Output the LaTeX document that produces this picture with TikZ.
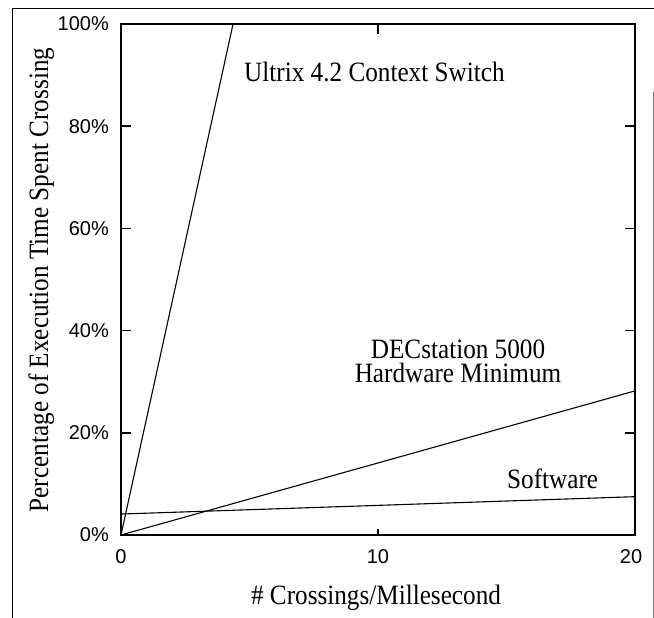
\documentclass[tikz,border=0pt]{standalone}
\usepackage{fontspec}
\usepackage{graphicx}
\setmainfont{Liberation Serif}
\newfontfamily\ticksfont{Liberation Sans}
\newcommand{\narrow}[1]{\scalebox{0.9}[1]{#1}}
\newcommand{\ytick}[3]{
    \draw[axis] (121,#1) -- (131,#1);
    \draw[axis] (635,#1) -- (625,#1);
    \node[ticklabel, anchor=east] (#2) at (109,#1) {#3};
  }

\begin{document}
\begin{tikzpicture}[x=1pt, y=-1pt,
    axis/.style={line width=1.4pt},
    curve/.style={line width=1.1pt},
    lbl/.style={inner sep=0pt, font=\fontsize{28}{24}\selectfont},
    ticklabel/.style={inner sep=0pt, font=\ticksfont\fontsize{20}{24}\selectfont}]
  \useasboundingbox (0,0) rectangle (654,618);
  % outer frame
  \draw[line width=0.9pt] (12,618) -- (12,8) -- (654,8);
  \draw[line width=0.6pt, gray] (653,92) -- (653,618);

  % axes and ticks
  \draw[axis] (121,24) rectangle (635,535);
  \ytick{24}{y100}{100\%}
  \ytick{126.2}{y80}{80\%}
  \ytick{228.4}{y60}{60\%}
  \ytick{330.6}{y40}{40\%}
  \ytick{432.8}{y20}{20\%}
  \node[ticklabel, anchor=east] (y0) at (109,535) {0\%};
  \draw[axis] (378,24) -- (378,34);
  \draw[axis] (378,535) -- (378,529);
  \node[ticklabel] (x0) at (121,557) {0};
  \node[ticklabel] (x10) at (378,557) {10};
  \node[ticklabel] (x20) at (631,557) {20};

  % data
  \begin{scope}[shift={(121,535)}, x=25.7pt, y=5.11pt]
    \coordinate (origin) at (0,0);
    \coordinate (ultrixend) at (4.36,100);
    \coordinate (decend) at (20,28.2);
    \coordinate (softstart) at (0,4.1);
    \coordinate (softend) at (20,7.5);
    \draw[curve] (origin) -- (ultrixend);
    \draw[curve] (origin) -- (decend);
    \draw[curve] (softstart) -- (softend);
  \end{scope}

  % labels
  \node[lbl, anchor=base west] (ultrix) at (244,82) {\narrow{Ultrix 4.2 Context Switch}};
  \node[lbl, align=center] (dec) at (458,361) {\narrow{DECstation 5000}\\\narrow{Hardware Minimum}};
  \node[lbl, anchor=base west] (soft) at (507,488) {\narrow{Software}};
  \node[lbl, anchor=base] (xlabel) at (376,604) {\narrow{\# Crossings/Millesecond}};
  \node[lbl, anchor=base, rotate=90] (ylabel) at (48,280) {\narrow{Percentage of Execution Time Spent Crossing}};
\end{tikzpicture}
\end{document}
